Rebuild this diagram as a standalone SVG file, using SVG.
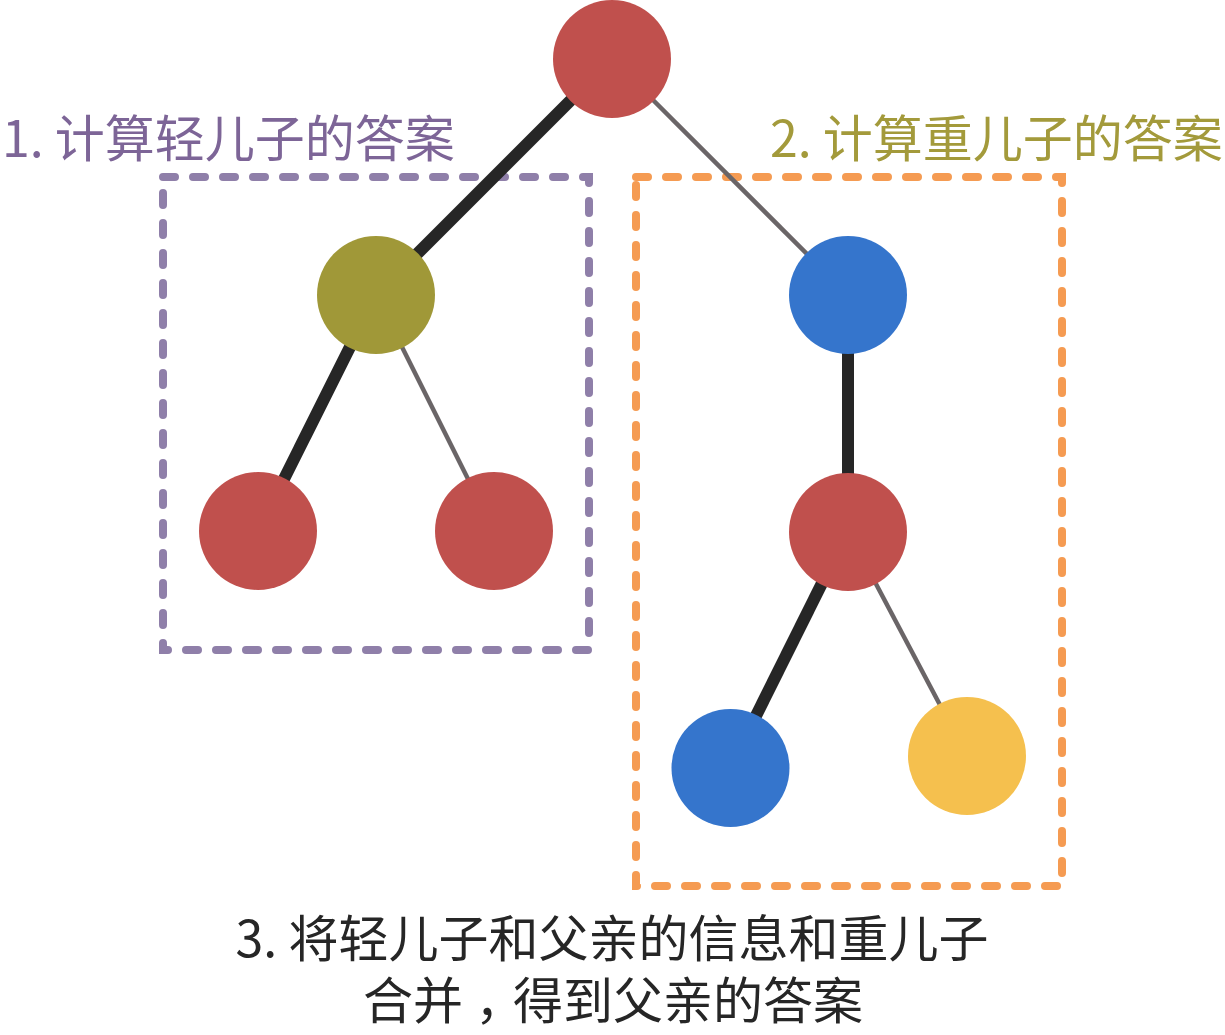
<svg xmlns="http://www.w3.org/2000/svg" width="1225" height="1035" viewBox="0 0 1225 1035">
<style>
.thick{stroke:#262626;stroke-width:12;fill:none}
.thin{stroke:#6a6567;stroke-width:4.5;fill:none}
.box{fill:none;stroke-width:8;stroke-linecap:round;stroke-dasharray:12 18}
.t{font-family:"Noto Sans CJK SC","Noto Sans",sans-serif;font-size:50px;font-weight:400}
.red{fill:#c0504d}.olive{fill:#a09838}.blue{fill:#3575cc}.yellow{fill:#f5c04e}
</style>
<rect width="1225" height="1035" fill="#fff"/>
<g id="boxes">
<rect id="box-light" class="box" x="163" y="177" width="426" height="473" stroke="#8f7fa9"/>
<rect id="box-heavy" class="box" x="636" y="177" width="426" height="709" stroke="#f59b52"/>
</g>
<g id="connectors">
<line class="thick" x1="612" y1="59" x2="376" y2="295"/>
<line class="thin" x1="612" y1="59" x2="848" y2="295"/>
<line class="thick" x1="376" y1="295" x2="258" y2="531"/>
<line class="thin" x1="376" y1="295" x2="494" y2="531"/>
<line class="thick" x1="848" y1="295" x2="848" y2="531"/>
<line class="thick" x1="848" y1="531" x2="730" y2="768"/>
<line class="thin" x1="848" y1="531" x2="967" y2="756"/>
</g>
<g id="root"><circle class="red" cx="612" cy="59" r="59"/></g>
<g id="light-child"><circle class="olive" cx="376" cy="295" r="59"/></g>
<g id="heavy-child"><circle class="blue" cx="848" cy="295" r="59"/></g>
<g id="ll"><circle class="red" cx="258" cy="531" r="59"/></g>
<g id="lr"><circle class="red" cx="494" cy="531" r="59"/></g>
<g id="hc"><circle class="red" cx="848" cy="532" r="59"/></g>
<g id="hcl"><circle class="blue" cx="730.5" cy="768" r="59"/></g>
<g id="hcr"><circle class="yellow" cx="967" cy="756" r="59"/></g>
<g id="labels">
<text class="t" x="2" y="157" fill="#7d6597">1. 计算轻儿子的答案</text>
<text class="t" x="770" y="157" fill="#a39a3b">2. 计算重儿子的答案</text>
<text class="t" x="612" y="957" fill="#262626" text-anchor="middle">3. 将轻儿子和父亲的信息和重儿子</text>
<text class="t" x="613" y="1019" fill="#262626" text-anchor="middle">合并<tspan dx="12">，</tspan><tspan dx="-12">得到父亲的答案</tspan></text>
</g>
</svg>
